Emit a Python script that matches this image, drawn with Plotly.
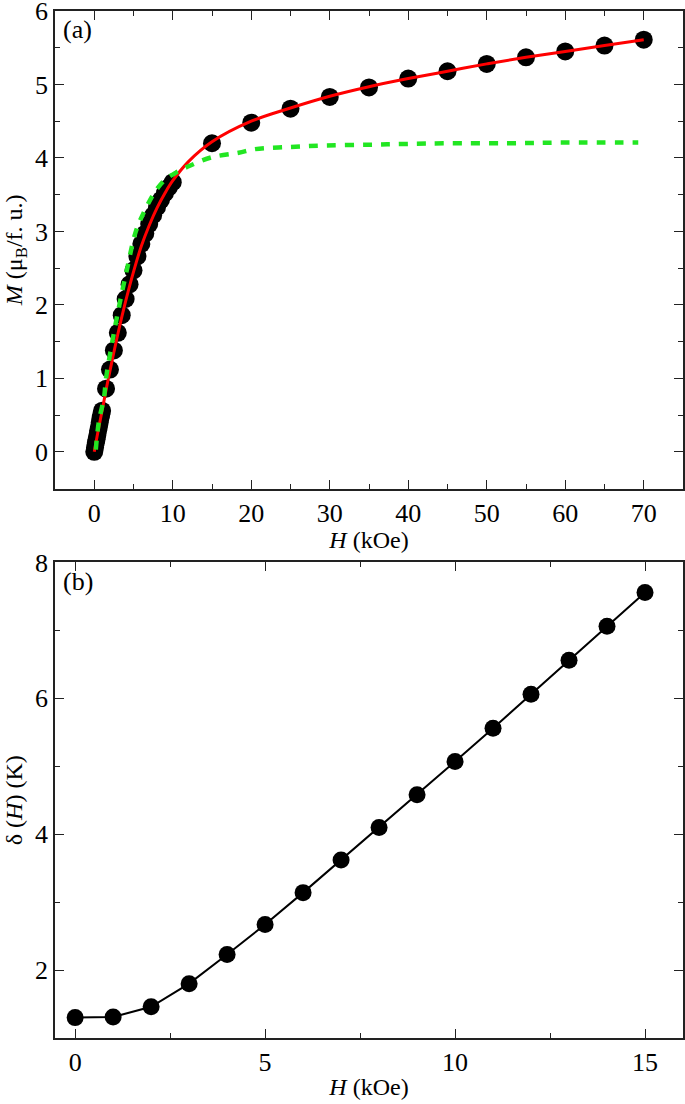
import plotly.graph_objects as go
from plotly.subplots import make_subplots

# (a) magnetization data
H_low = [0, 0.1, 0.2, 0.3, 0.4, 0.5, 0.6, 0.7, 0.8, 0.9, 1.0]
M_low = [0, 0.06, 0.12, 0.17, 0.23, 0.29, 0.34, 0.40, 0.46, 0.51, 0.56]
H_mid = [1.5, 2.0, 2.5, 3.0, 3.5, 4.0, 4.5, 5.0, 5.5, 6.0, 6.5, 7.0, 7.5, 8.0, 8.5, 9.0, 9.5, 10.0]
M_mid = [0.86, 1.12, 1.38, 1.62, 1.86, 2.08, 2.28, 2.47, 2.66, 2.83, 2.97, 3.10, 3.22, 3.33, 3.43, 3.52, 3.60, 3.67]
H_high = [15, 20, 25, 30, 35, 40, 45, 50, 55, 60, 65, 70]
M_high = [4.20, 4.48, 4.67, 4.83, 4.96, 5.08, 5.18, 5.28, 5.37, 5.45, 5.53, 5.61]

# red fit
H_fit = [0, 0.5, 1, 1.5, 2, 3, 4, 5, 6, 7, 8, 9, 10, 12, 15, 20, 25, 30, 35, 40, 45, 50, 55, 60, 65, 70]
M_fit = [0, 0.29, 0.56, 0.84, 1.10, 1.60, 2.05, 2.45, 2.80, 3.08, 3.32, 3.52, 3.69, 3.95, 4.22, 4.50, 4.68, 4.84, 4.97, 5.08, 5.18, 5.28, 5.37, 5.45, 5.53, 5.61]

# green dashed curve
H_g = [0.2, 0.6, 1.25, 1.5, 2.3, 3.2, 4.2, 5.3, 6.5, 7.8, 9.0, 10.4, 12.1, 15, 18.4, 20.5, 25, 29.5, 35, 39.6, 45, 52.8, 60, 69.3]
M_g = [0.03, 0.42, 0.74, 1.0, 1.5, 2.0, 2.5, 3.0, 3.3, 3.55, 3.7, 3.8, 3.89, 4.01, 4.07, 4.12, 4.15, 4.17, 4.18, 4.19, 4.2, 4.2, 4.21, 4.21]

# (b) delta(H)
H_b = [0, 1, 2, 3, 4, 5, 6, 7, 8, 9, 10, 11, 12, 13, 14, 15]
delta_b = [1.30, 1.31, 1.46, 1.80, 2.23, 2.67, 3.14, 3.62, 4.10, 4.58, 5.07, 5.56, 6.06, 6.56, 7.06, 7.56]

FONT = "Liberation Serif, Times New Roman, serif"

fig = make_subplots(rows=2, cols=1)

fig.add_trace(go.Scatter(x=H_low + H_mid + H_high, y=M_low + M_mid + M_high, mode="markers",
                         marker=dict(color="black", size=18), showlegend=False), row=1, col=1)
fig.add_trace(go.Scatter(x=H_fit, y=M_fit, mode="lines", line=dict(color="#ff0000", width=3, shape="spline"),
                         showlegend=False), row=1, col=1)
fig.add_trace(go.Scatter(x=H_g, y=M_g, mode="lines",
                         line=dict(color="#22e622", width=4.5, dash="9px,9px", shape="spline"),
                         showlegend=False), row=1, col=1)

fig.add_trace(go.Scatter(x=H_b, y=delta_b, mode="lines+markers",
                         line=dict(color="black", width=2), marker=dict(color="black", size=17),
                         showlegend=False), row=2, col=1)

axis_common = dict(showline=True, linecolor="#222", linewidth=1.5, mirror="ticks", ticks="inside",
                   ticklen=9, tickwidth=1.3, tickcolor="#222", showgrid=False, zeroline=False,
                   automargin=False, ticklabeloverflow="allow",
                   tickfont=dict(family=FONT, size=26, color="black"),
                   title_font=dict(family=FONT, size=24, color="black"))

fig.update_xaxes(axis_common)
fig.update_yaxes(axis_common)

fig.update_xaxes(range=[-5, 75], dtick=10, tick0=0,
                 minor=dict(dtick=5, ticks="inside", ticklen=5, tickcolor="#222"),
                 title=dict(text="<i>H</i> (kOe)", standoff=2), domain=[0, 1], row=1, col=1)
fig.update_yaxes(range=[-0.5, 6], dtick=1, tick0=0,
                 minor=dict(dtick=0.5, ticks="inside", ticklen=5, tickcolor="#222"),
                 title=dict(text="<i>M</i> (μ<sub>B</sub>/f. u.)", standoff=6), domain=[0.535, 1], row=1, col=1)
fig.update_xaxes(range=[-0.53, 16], dtick=5, tick0=0,
                 minor=dict(dtick=2.5, ticks="inside", ticklen=5, tickcolor="#222"),
                 title=dict(text="<i>H</i> (kOe)", standoff=2), domain=[0, 1], row=2, col=1)
fig.update_yaxes(range=[1.0, 8], dtick=2, tick0=0,
                 minor=dict(dtick=1, ticks="inside", ticklen=5, tickcolor="#222"),
                 title=dict(text="δ (<i>H</i>) (K)", standoff=6), domain=[0, 0.463], row=2, col=1)

fig.add_annotation(text="(a)", x=0.01, y=0.998, xref="paper", yref="paper", xanchor="left", yanchor="top",
                   showarrow=False, font=dict(family=FONT, size=26, color="black"))
fig.add_annotation(text="(b)", x=0.01, y=0.461, xref="paper", yref="paper", xanchor="left", yanchor="top",
                   showarrow=False, font=dict(family=FONT, size=26, color="black"))

fig.update_layout(width=685, height=1104, plot_bgcolor="white", paper_bgcolor="white",
                  margin=dict(l=55, r=2, t=11, b=66), font=dict(family=FONT, color="black"))

fig.write_html("out.html", config={"displayModeBar": False},
               post_script="document.body.style.margin='0';")
